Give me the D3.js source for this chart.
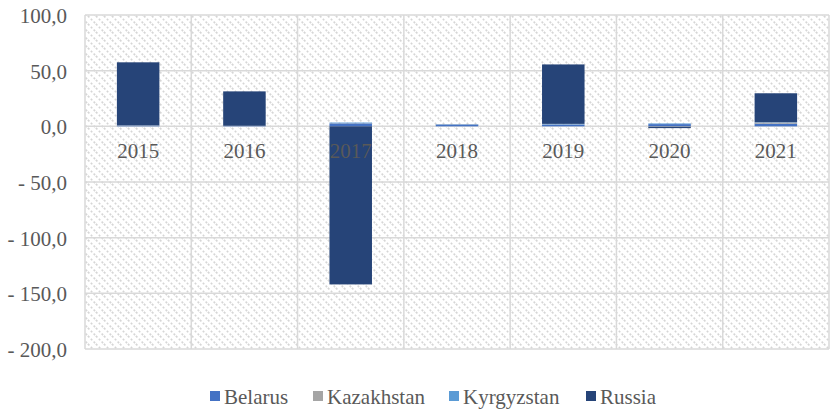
<!DOCTYPE html>
<html><head><meta charset="utf-8">
<script src="https://cdn.jsdelivr.net/npm/d3@7/dist/d3.min.js"></script>
<style>body{margin:0;background:#fff}svg{display:block}svg text{font-family:"Liberation Serif","Times New Roman",serif !important}</style>
</head><body>
<svg id="c" width="831" height="409"></svg>
<script>
const years = ["2015","2016","2017","2018","2019","2020","2021"];
const seriesNames = ["Belarus","Kazakhstan","Kyrgyzstan","Russia"];
const belarus    = [0.6, 0.3, 2.6, 1.6, 1.6, 2.0, 2.4];
const kazakhstan = [0.2, 0.1, 0.2, 0.2, 0.2, -0.4, 1.0];
const kyrgyzstan = [0.1, 0.1, 0.6, 0.2, 0.4, 0.6, 0.3];
const russia     = [56.6, 30.9, -142.0, 0.0, 53.4, -1.2, 26.0];
const yTicks = [100, 50, 0, -50, -100, -150, -200];
const colors = ["#4472C4","#A5A5A5","#5B9BD5","#264478"];

const svg = d3.select("#c");
const L = 85, R = 829, T = 15, B = 349;
const x = d3.scaleBand().domain(years).range([L, R]).paddingInner(0.6).paddingOuter(0.3);
const y = d3.scaleLinear().domain([-200, 100]).range([B, T]);

const defs = svg.append("defs");
const pat = defs.append("pattern").attr("id","hatch").attr("patternUnits","userSpaceOnUse")
  .attr("width",8).attr("height",8);
pat.append("rect").attr("width",8).attr("height",8).attr("fill","#fff");
pat.append("path").attr("d","M0,0 L8,8 M-4,4 L4,12 M4,-4 L12,4")
  .attr("stroke","#d6d6d6").attr("stroke-width",1.6).attr("stroke-dasharray","2,2");

svg.append("rect").attr("x",L).attr("y",T).attr("width",R-L).attr("height",B-T)
  .attr("fill","url(#hatch)");

svg.append("g").selectAll("line").data(yTicks).join("line")
  .attr("x1",L).attr("x2",R).attr("y1",d=>y(d)).attr("y2",d=>y(d))
  .attr("stroke","#d9d9d9").attr("stroke-width",1.5);
const bounds = years.map(d=>x(d)-x.step()*x.paddingInner()/2);
bounds.push(R);
svg.append("g").selectAll("line").data(bounds).join("line")
  .attr("x1",d=>d).attr("x2",d=>d).attr("y1",T).attr("y2",B)
  .attr("stroke","#d9d9d9").attr("stroke-width",1.5);

const rows = years.map((yr,i)=>({year:yr, Belarus:belarus[i], Kazakhstan:kazakhstan[i], Kyrgyzstan:kyrgyzstan[i], Russia:russia[i]}));
const stacked = d3.stack().keys(seriesNames).offset(d3.stackOffsetDiverging)(rows);
svg.append("g").selectAll("g").data(stacked).join("g")
  .attr("fill",(d,i)=>colors[i])
  .selectAll("rect").data(d=>d).join("rect")
  .attr("x",d=>x(d.data.year)).attr("width",x.bandwidth())
  .attr("y",d=>y(Math.max(d[0],d[1]))).attr("height",d=>Math.abs(y(d[0])-y(d[1])));

const fmt = v => (v<0 ? "- " : "") + Math.abs(v).toFixed(1).replace(".",",");
const yAxis = d3.axisLeft(y).tickValues(yTicks).tickFormat(fmt).tickSize(0).tickPadding(0);
const ga = svg.append("g").attr("transform","translate(67,0)").call(yAxis);
ga.select(".domain").remove();
ga.attr("font-family",null).attr("font-size",null);
ga.selectAll("text").style("font-size","21px").attr("fill","#595959").attr("dy","0.35em");

const xAxis = d3.axisBottom(x).tickSize(0).tickPadding(0);
const gx = svg.append("g").attr("transform",`translate(0,${y(0)})`).call(xAxis);
gx.select(".domain").remove();
gx.attr("font-family",null).attr("font-size",null);
gx.selectAll("text").style("font-size","21px").attr("fill","#595959").attr("dy",null).attr("y",31.5);

const legX = [210, 313, 449, 586];
const lg = svg.append("g").selectAll("g").data(seriesNames).join("g")
  .attr("transform",(d,i)=>`translate(${legX[i]},0)`);
lg.append("rect").attr("x",0).attr("y",391).attr("width",10).attr("height",10).attr("fill",(d,i)=>colors[i]);
lg.append("text").attr("x",14).attr("y",403.5).text(d=>d)
  .style("font-size","21px").attr("fill","#595959");
</script>
</body></html>
